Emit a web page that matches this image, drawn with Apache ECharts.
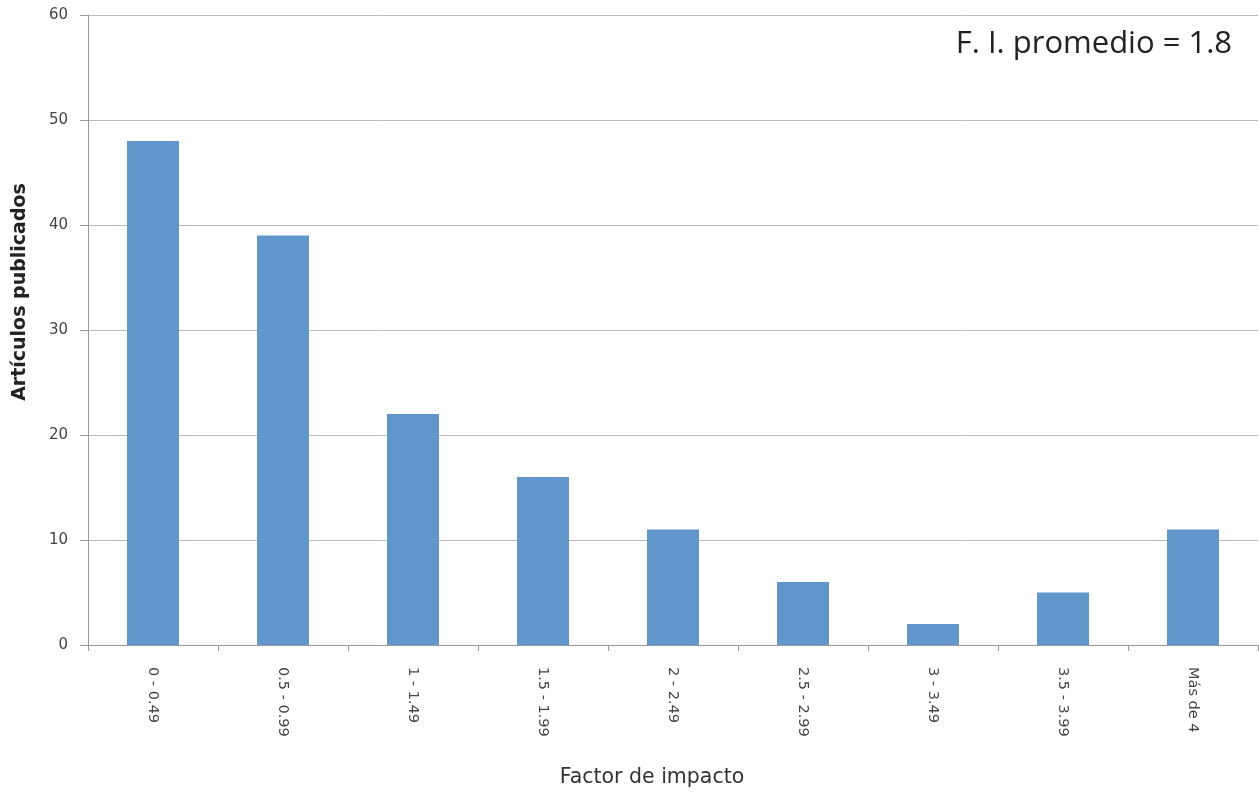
<!DOCTYPE html>
<html>
<head>
<meta charset="utf-8">
<script src="https://cdn.jsdelivr.net/npm/echarts@6/dist/echarts.min.js"></script>
<style>html,body{margin:0;padding:0;background:#fff}#c{width:1259px;height:792px}</style>
</head>
<body>
<div id="c"></div>
<script>
const categories = ["0 - 0.49", "0.5 - 0.99", "1 - 1.49", "1.5 - 1.99", "2 - 2.49", "2.5 - 2.99", "3 - 3.49", "3.5 - 3.99", "Más de 4"];
const values = [48, 39, 22, 16, 11, 6, 2, 5, 11];
const yTicks = [0, 10, 20, 30, 40, 50, 60];

const chart = echarts.init(document.getElementById('c'));
chart.setOption({
  animation: false,
  backgroundColor: '#fff',
  title: {
    text: 'F. I. promedio = 1.8',
    right: 22, top: 24,
    textStyle: { fontFamily: 'Open Sans', fontSize: 31, fontWeight: 'normal', color: '#222' }
  },
  grid: { left: 88, right: 1, top: 15, bottom: 147, outerBoundsMode: 'none', containLabel: false },
  xAxis: {
    type: 'category',
    data: categories,
    name: 'Factor de impacto',
    nameLocation: 'middle',
    nameGap: 122,
    nameTextStyle: { fontFamily: 'DejaVu Sans', fontSize: 20.5, color: '#333', padding: [0, 42, 0, 0] },
    axisLine: { lineStyle: { color: '#999' } },
    axisTick: { show: true, length: 6, lineStyle: { color: '#999' } },
    axisLabel: { rotate: -90, margin: 22, fontFamily: 'DejaVu Sans', fontSize: 14.5, color: '#444' }
  },
  yAxis: {
    type: 'value',
    min: 0, max: 60, interval: 10,
    name: 'Artículos publicados',
    nameLocation: 'middle',
    nameGap: 58,
    nameTextStyle: { fontFamily: 'DejaVu Sans', fontSize: 19, fontWeight: 'bold', color: '#222', padding: [0, 0, 0, 76] },
    axisLine: { show: true, lineStyle: { color: '#999' } },
    axisTick: { show: true, length: 8, lineStyle: { color: '#999' } },
    axisLabel: { margin: 20, fontFamily: 'DejaVu Sans', fontSize: 15, color: '#444',
      formatter: v => yTicks.includes(v) ? String(v) : '' },
    splitLine: { lineStyle: { color: '#bbb' } }
  },
  series: [{
    type: 'bar',
    data: values,
    barWidth: '40%',
    itemStyle: { color: '#6096c9' }
  }]
});
</script>
</body>
</html>
